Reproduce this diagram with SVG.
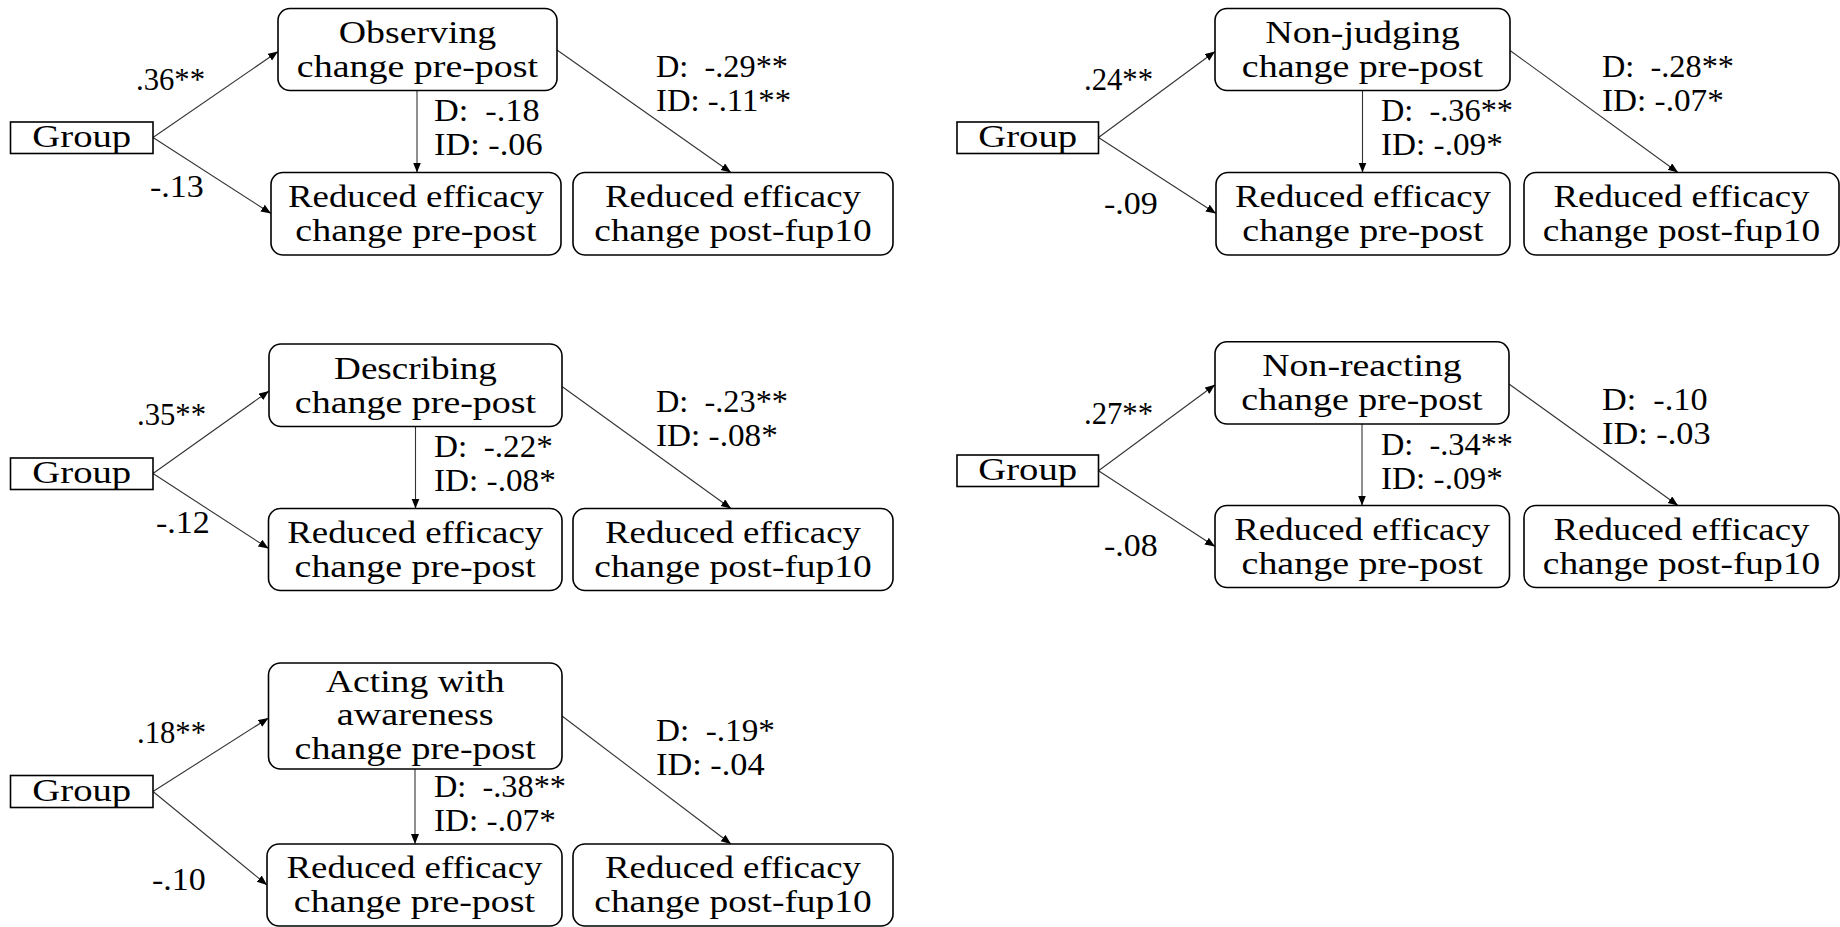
<svg xmlns="http://www.w3.org/2000/svg" width="1840" height="927" viewBox="0 0 1840 927" xml:space="preserve">
<style>
.bg{fill:#ffffff}
.box{fill:#ffffff;stroke:#000;stroke-width:1.6}
.sq{fill:#ffffff;stroke:#000;stroke-width:1.6}
.t{font-family:"Liberation Serif","Times New Roman",serif;font-size:30.5px;fill:#000;text-anchor:middle}
.l{font-family:"Liberation Serif","Times New Roman",serif;font-size:30.5px;fill:#000;white-space:pre}
.c{fill:none;stroke:#333;stroke-width:1.1;marker-end:url(#ah)}
</style>
<defs>
<marker id="ah" markerUnits="userSpaceOnUse" markerWidth="11" markerHeight="9" refX="10" refY="4" orient="auto"><path d="M0,0 L10,4 L0,8 z" fill="#000"/></marker>
</defs>
<rect class="bg" x="0" y="0" width="1840" height="927"/>

<g id="connectors">
<path class="c" d="M153,137.5 L278,51.5"/>
<path class="c" d="M153,137.5 L271,213.5"/>
<path class="c" d="M417,90.5 L417,172.5"/>
<path class="c" d="M557,50 L731,172.5"/>

<path class="c" d="M1098.5,137.5 L1215,51.5"/>
<path class="c" d="M1098.5,137.5 L1216,213.5"/>
<path class="c" d="M1362.5,90.5 L1362.5,172.5"/>
<path class="c" d="M1510,50.5 L1678,172.5"/>

<path class="c" d="M153,473.5 L269,391"/>
<path class="c" d="M153,473.5 L268.5,548.5"/>
<path class="c" d="M415.5,426.5 L415.5,508.5"/>
<path class="c" d="M562,386.5 L731,508.5"/>

<path class="c" d="M1098.5,470.8 L1215,384.8"/>
<path class="c" d="M1098.5,470.8 L1215,546.5"/>
<path class="c" d="M1362,424 L1362,505.5"/>
<path class="c" d="M1509,384 L1678,505.5"/>

<path class="c" d="M153,791.5 L268.5,718"/>
<path class="c" d="M153,791.5 L267,885"/>
<path class="c" d="M415,769 L415,844"/>
<path class="c" d="M562,716 L731,844"/>
</g>

<g id="edge-labels">
<text class="l" x="136" y="90" textLength="69" lengthAdjust="spacingAndGlyphs">.36**</text>
<text class="l" x="150" y="197" textLength="53.8" lengthAdjust="spacingAndGlyphs">-.13</text>
<text class="l" x="434" y="121" textLength="105.6" lengthAdjust="spacingAndGlyphs">D:  -.18</text>
<text class="l" x="434" y="155" textLength="108.6" lengthAdjust="spacingAndGlyphs">ID: -.06</text>
<text class="l" x="656" y="76.5" textLength="132" lengthAdjust="spacingAndGlyphs">D:  -.29**</text>
<text class="l" x="656" y="110.5" textLength="135" lengthAdjust="spacingAndGlyphs">ID: -.11**</text>

<text class="l" x="1084" y="90" textLength="69" lengthAdjust="spacingAndGlyphs">.24**</text>
<text class="l" x="1104" y="214" textLength="53.8" lengthAdjust="spacingAndGlyphs">-.09</text>
<text class="l" x="1381" y="121" textLength="132" lengthAdjust="spacingAndGlyphs">D:  -.36**</text>
<text class="l" x="1381" y="155" textLength="121.8" lengthAdjust="spacingAndGlyphs">ID: -.09*</text>
<text class="l" x="1602" y="76.5" textLength="132" lengthAdjust="spacingAndGlyphs">D:  -.28**</text>
<text class="l" x="1602" y="110.5" textLength="121.8" lengthAdjust="spacingAndGlyphs">ID: -.07*</text>

<text class="l" x="137" y="425" textLength="69" lengthAdjust="spacingAndGlyphs">.35**</text>
<text class="l" x="156" y="533" textLength="53.8" lengthAdjust="spacingAndGlyphs">-.12</text>
<text class="l" x="434" y="457" textLength="118.9" lengthAdjust="spacingAndGlyphs">D:  -.22*</text>
<text class="l" x="434" y="491" textLength="121.8" lengthAdjust="spacingAndGlyphs">ID: -.08*</text>
<text class="l" x="656" y="412" textLength="132" lengthAdjust="spacingAndGlyphs">D:  -.23**</text>
<text class="l" x="656" y="446" textLength="121.8" lengthAdjust="spacingAndGlyphs">ID: -.08*</text>

<text class="l" x="1084" y="424" textLength="69" lengthAdjust="spacingAndGlyphs">.27**</text>
<text class="l" x="1104" y="556" textLength="53.8" lengthAdjust="spacingAndGlyphs">-.08</text>
<text class="l" x="1381" y="454.5" textLength="132" lengthAdjust="spacingAndGlyphs">D:  -.34**</text>
<text class="l" x="1381" y="488.5" textLength="121.8" lengthAdjust="spacingAndGlyphs">ID: -.09*</text>
<text class="l" x="1602" y="409.5" textLength="105.6" lengthAdjust="spacingAndGlyphs">D:  -.10</text>
<text class="l" x="1602" y="443.5" textLength="108.6" lengthAdjust="spacingAndGlyphs">ID: -.03</text>

<text class="l" x="137" y="743" textLength="69" lengthAdjust="spacingAndGlyphs">.18**</text>
<text class="l" x="152" y="890" textLength="53.8" lengthAdjust="spacingAndGlyphs">-.10</text>
<text class="l" x="434" y="797" textLength="132" lengthAdjust="spacingAndGlyphs">D:  -.38**</text>
<text class="l" x="434" y="831" textLength="121.8" lengthAdjust="spacingAndGlyphs">ID: -.07*</text>
<text class="l" x="656" y="741" textLength="118.9" lengthAdjust="spacingAndGlyphs">D:  -.19*</text>
<text class="l" x="656" y="775" textLength="108.6" lengthAdjust="spacingAndGlyphs">ID: -.04</text>
</g>

<!-- Panel 1 -->
<g id="p1-group"><rect class="sq" x="10.5" y="122" width="142.5" height="31.5"/><text class="t" x="81.75" y="147" textLength="98.9" lengthAdjust="spacingAndGlyphs">Group</text></g>
<g id="p1-observing"><rect class="box" x="278" y="8.5" width="279" height="82" rx="12"/><text class="t" x="417.5" y="42.5" textLength="157.5" lengthAdjust="spacingAndGlyphs">Observing</text><text class="t" x="417.5" y="76.5" textLength="241.3" lengthAdjust="spacingAndGlyphs">change pre-post</text></g>
<g id="p1-re-prepost"><rect class="box" x="271" y="172.5" width="290" height="82.5" rx="12"/><text class="t" x="416" y="206.5" textLength="255.9" lengthAdjust="spacingAndGlyphs">Reduced efficacy</text><text class="t" x="416" y="240.5" textLength="241.3" lengthAdjust="spacingAndGlyphs">change pre-post</text></g>
<g id="p1-re-fup10"><rect class="box" x="573" y="172.5" width="320" height="82.5" rx="12"/><text class="t" x="733" y="206.5" textLength="255.9" lengthAdjust="spacingAndGlyphs">Reduced efficacy</text><text class="t" x="733" y="240.5" textLength="277.4" lengthAdjust="spacingAndGlyphs">change post-fup10</text></g>

<!-- Panel 2 -->
<g id="p2-group"><rect class="sq" x="957" y="122" width="141.5" height="31.5"/><text class="t" x="1027.7" y="147" textLength="98.9" lengthAdjust="spacingAndGlyphs">Group</text></g>
<g id="p2-nonjudging"><rect class="box" x="1215" y="8.5" width="295" height="82" rx="12"/><text class="t" x="1362.5" y="42.5" textLength="194.7" lengthAdjust="spacingAndGlyphs">Non-judging</text><text class="t" x="1362.5" y="76.5" textLength="241.3" lengthAdjust="spacingAndGlyphs">change pre-post</text></g>
<g id="p2-re-prepost"><rect class="box" x="1216" y="172.5" width="294" height="82.5" rx="12"/><text class="t" x="1363" y="206.5" textLength="255.9" lengthAdjust="spacingAndGlyphs">Reduced efficacy</text><text class="t" x="1363" y="240.5" textLength="241.3" lengthAdjust="spacingAndGlyphs">change pre-post</text></g>
<g id="p2-re-fup10"><rect class="box" x="1524" y="172.5" width="315" height="82.5" rx="12"/><text class="t" x="1681.5" y="206.5" textLength="255.9" lengthAdjust="spacingAndGlyphs">Reduced efficacy</text><text class="t" x="1681.5" y="240.5" textLength="277.4" lengthAdjust="spacingAndGlyphs">change post-fup10</text></g>

<!-- Panel 3 -->
<g id="p3-group"><rect class="sq" x="10.5" y="458" width="142.5" height="31.5"/><text class="t" x="81.75" y="483" textLength="98.9" lengthAdjust="spacingAndGlyphs">Group</text></g>
<g id="p3-describing"><rect class="box" x="269" y="344" width="293" height="82.5" rx="12"/><text class="t" x="415.5" y="378.5" textLength="162.8" lengthAdjust="spacingAndGlyphs">Describing</text><text class="t" x="415.5" y="412.5" textLength="241.3" lengthAdjust="spacingAndGlyphs">change pre-post</text></g>
<g id="p3-re-prepost"><rect class="box" x="268.5" y="508.5" width="293.5" height="82" rx="12"/><text class="t" x="415.2" y="542.5" textLength="255.9" lengthAdjust="spacingAndGlyphs">Reduced efficacy</text><text class="t" x="415.2" y="576.5" textLength="241.3" lengthAdjust="spacingAndGlyphs">change pre-post</text></g>
<g id="p3-re-fup10"><rect class="box" x="573" y="508.5" width="320" height="82" rx="12"/><text class="t" x="733" y="542.5" textLength="255.9" lengthAdjust="spacingAndGlyphs">Reduced efficacy</text><text class="t" x="733" y="576.5" textLength="277.4" lengthAdjust="spacingAndGlyphs">change post-fup10</text></g>

<!-- Panel 4 -->
<g id="p4-group"><rect class="sq" x="957" y="455" width="141.5" height="31.5"/><text class="t" x="1027.7" y="480" textLength="98.9" lengthAdjust="spacingAndGlyphs">Group</text></g>
<g id="p4-nonreacting"><rect class="box" x="1215" y="341.8" width="294" height="82.2" rx="12"/><text class="t" x="1362" y="375.8" textLength="199.4" lengthAdjust="spacingAndGlyphs">Non-reacting</text><text class="t" x="1362" y="409.8" textLength="241.3" lengthAdjust="spacingAndGlyphs">change pre-post</text></g>
<g id="p4-re-prepost"><rect class="box" x="1215" y="505.5" width="294.5" height="82" rx="12"/><text class="t" x="1362.2" y="539.5" textLength="255.9" lengthAdjust="spacingAndGlyphs">Reduced efficacy</text><text class="t" x="1362.2" y="573.5" textLength="241.3" lengthAdjust="spacingAndGlyphs">change pre-post</text></g>
<g id="p4-re-fup10"><rect class="box" x="1524" y="505.5" width="315" height="82" rx="12"/><text class="t" x="1681.5" y="539.5" textLength="255.9" lengthAdjust="spacingAndGlyphs">Reduced efficacy</text><text class="t" x="1681.5" y="573.5" textLength="277.4" lengthAdjust="spacingAndGlyphs">change post-fup10</text></g>

<!-- Panel 5 -->
<g id="p5-group"><rect class="sq" x="10.5" y="775.5" width="142.5" height="32"/><text class="t" x="81.75" y="800.5" textLength="98.9" lengthAdjust="spacingAndGlyphs">Group</text></g>
<g id="p5-acting"><rect class="box" x="268.5" y="663" width="293.5" height="106" rx="12"/><text class="t" x="415.2" y="691.5" textLength="178.8" lengthAdjust="spacingAndGlyphs">Acting with</text><text class="t" x="415.2" y="725" textLength="157" lengthAdjust="spacingAndGlyphs">awareness</text><text class="t" x="415.2" y="758.5" textLength="241.3" lengthAdjust="spacingAndGlyphs">change pre-post</text></g>
<g id="p5-re-prepost"><rect class="box" x="267" y="844" width="295" height="82" rx="12"/><text class="t" x="414.5" y="878" textLength="255.9" lengthAdjust="spacingAndGlyphs">Reduced efficacy</text><text class="t" x="414.5" y="912" textLength="241.3" lengthAdjust="spacingAndGlyphs">change pre-post</text></g>
<g id="p5-re-fup10"><rect class="box" x="573" y="844" width="320" height="82" rx="12"/><text class="t" x="733" y="878" textLength="255.9" lengthAdjust="spacingAndGlyphs">Reduced efficacy</text><text class="t" x="733" y="912" textLength="277.4" lengthAdjust="spacingAndGlyphs">change post-fup10</text></g>
</svg>
